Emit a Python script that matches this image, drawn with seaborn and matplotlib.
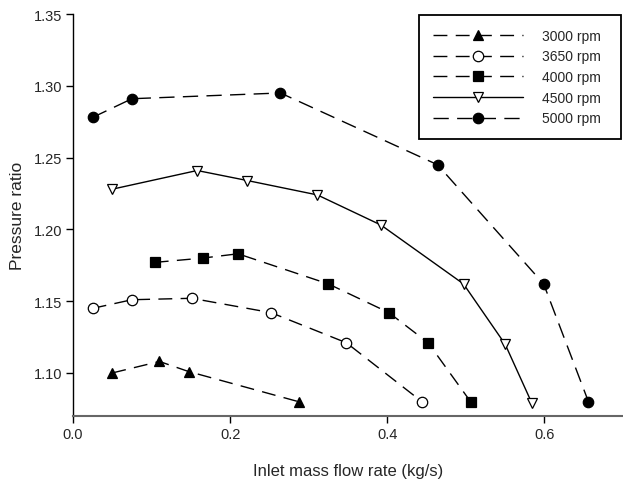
import matplotlib
matplotlib.use("Agg")
import matplotlib.pyplot as plt
import seaborn as sns

# values
flow_3000 = [0.050, 0.110, 0.147, 0.287]
pr_3000 = [1.100, 1.108, 1.101, 1.080]

flow_3650 = [0.025, 0.075, 0.151, 0.252, 0.348, 0.444]
pr_3650 = [1.145, 1.151, 1.152, 1.142, 1.121, 1.080]

flow_4000 = [0.104, 0.165, 0.210, 0.325, 0.402, 0.452, 0.506]
pr_4000 = [1.177, 1.180, 1.183, 1.162, 1.142, 1.121, 1.080]

flow_4500 = [0.050, 0.158, 0.222, 0.311, 0.392, 0.497, 0.550, 0.584]
pr_4500 = [1.228, 1.241, 1.234, 1.224, 1.203, 1.162, 1.120, 1.079]

flow_5000 = [0.025, 0.075, 0.264, 0.464, 0.599, 0.656]
pr_5000 = [1.278, 1.291, 1.295, 1.245, 1.162, 1.080]

labels = ["3000 rpm", "3650 rpm", "4000 rpm", "4500 rpm", "5000 rpm"]
x_ticks = [0.0, 0.2, 0.4, 0.6]
y_ticks = [1.10, 1.15, 1.20, 1.25, 1.30, 1.35]

series = [
    (flow_3000, pr_3000, "^", "black", (10, 6)),
    (flow_3650, pr_3650, "o", "white", (10, 6)),
    (flow_4000, pr_4000, "s", "black", (10, 6)),
    (flow_4500, pr_4500, "v", "white", None),
    (flow_5000, pr_5000, "o", "black", (11, 6)),
]

sns.set_style("ticks")
plt.rcParams["font.family"] = ["Liberation Sans", "DejaVu Sans"]
plt.rcParams["lines.scale_dashes"] = False

fig = plt.figure(figsize=(6.23, 4.89), dpi=100)
ax = fig.add_axes([0.1172, 0.1472, 0.8828, 0.8221])

for (x, y, mk, face, dash), lab in zip(series, labels):
    sns.lineplot(x=x, y=y, ax=ax, sort=False, color="black", linewidth=1.0,
                 marker=mk, markersize=7 if mk != "o" else 7.5,
                 markerfacecolor=face, markeredgecolor="black",
                 markeredgewidth=0.9, label=lab)
    line = ax.lines[-1]
    if dash is not None:
        line.set_dashes(dash)

ax.set_xlim(0, 0.7)
ax.set_ylim(1.07, 1.35)
ax.set_xticks(x_ticks)
ax.set_yticks(y_ticks)
ax.set_xticklabels([f"{v:.1f}" for v in x_ticks])
ax.set_yticklabels([f"{v:.2f}" for v in y_ticks])
ax.tick_params(axis="both", labelsize=10.5, direction="out", length=5,
               width=1, color="black", pad=3)

sns.despine(ax=ax)
ax.spines["left"].set_color("black")
ax.spines["bottom"].set_color("#666666")
ax.spines["left"].set_linewidth(1.0)
ax.spines["bottom"].set_linewidth(1.5)

ax.set_xlabel("Inlet mass flow rate (kg/s)", fontsize=12, labelpad=16)
ax.set_ylabel("Pressure ratio", fontsize=12.5, labelpad=6)

leg = ax.legend(loc="upper left", bbox_to_anchor=(0.629, 0.682, 0.368, 0.316),
                mode="expand", fontsize=10, frameon=True, fancybox=False,
                handlelength=6.5, handletextpad=1.35, labelspacing=0.48,
                borderpad=1.0, numpoints=1, borderaxespad=0)
leg.get_frame().set_edgecolor("black")
leg.get_frame().set_linewidth(1.3)
leg.get_frame().set_alpha(1)

fig.savefig("out.png", dpi=100)
